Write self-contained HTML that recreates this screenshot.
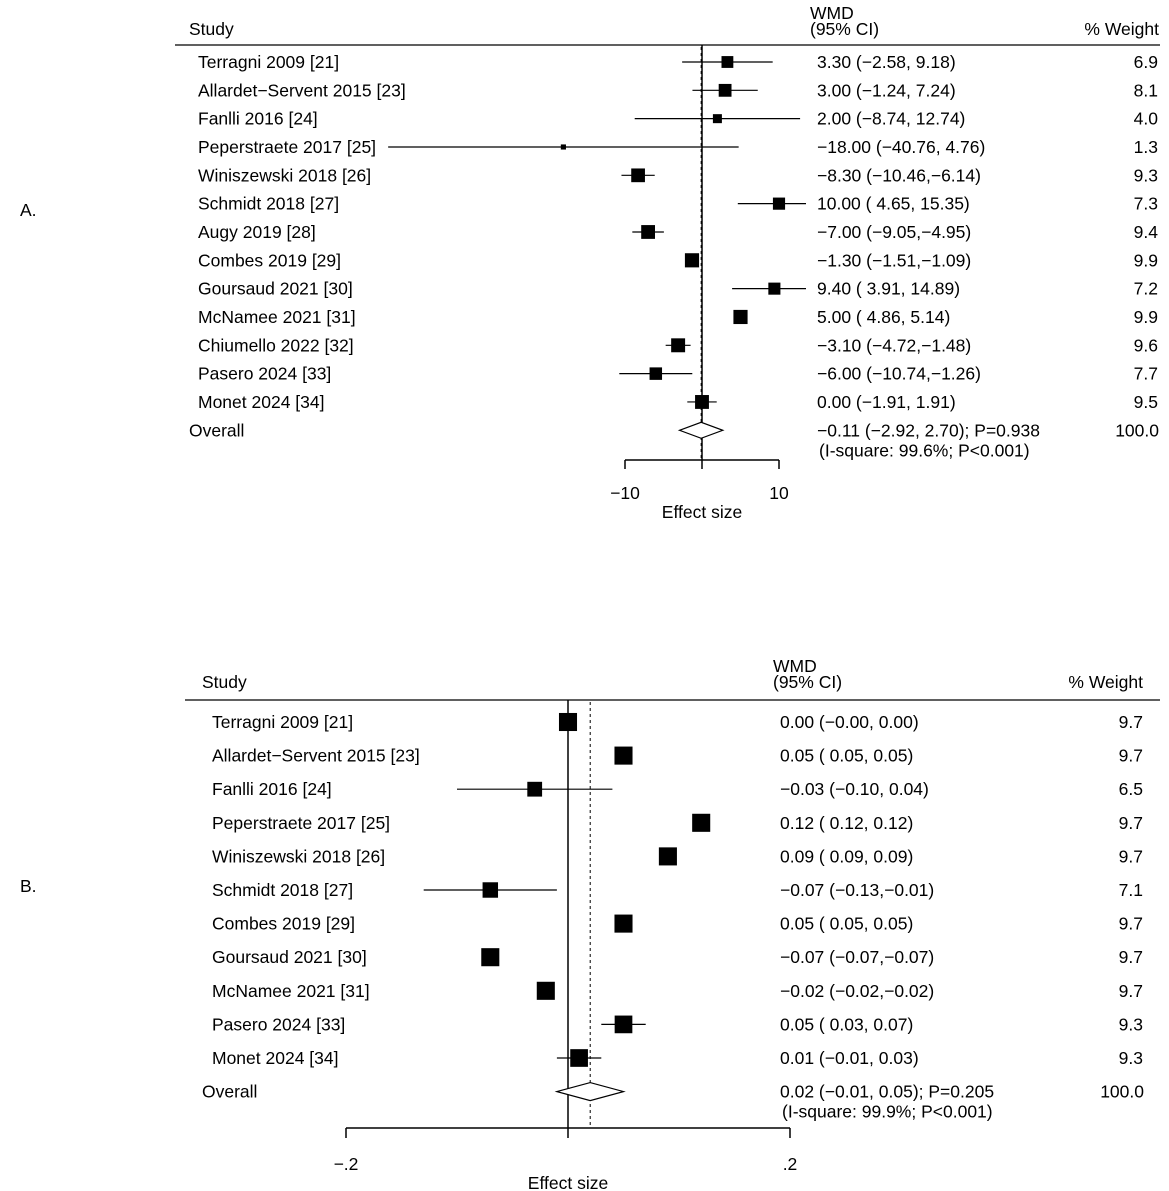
<!DOCTYPE html>
<html><head><meta charset="utf-8"><style>
html,body{margin:0;padding:0;background:#fff;width:1169px;height:1191px;overflow:hidden}
text{font-family:"Liberation Sans",sans-serif;font-size:17.5px;fill:#000}
</style></head><body>
<svg id="s" width="1169" height="1191" xmlns="http://www.w3.org/2000/svg"></svg>
<script>
const studiesA=["Terragni 2009 [21]","Allardet\u2212Servent 2015 [23]","Fanlli 2016 [24]","Peperstraete 2017 [25]","Winiszewski 2018 [26]","Schmidt 2018 [27]","Augy 2019 [28]","Combes 2019 [29]","Goursaud 2021 [30]","McNamee 2021 [31]","Chiumello 2022 [32]","Pasero 2024 [33]","Monet 2024 [34]"];
const estA=[3.30,3.00,2.00,-18.00,-8.30,10.00,-7.00,-1.30,9.40,5.00,-3.10,-6.00,0.00];
const loA=[-2.58,-1.24,-8.74,-40.76,-10.46,4.65,-9.05,-1.51,3.91,4.86,-4.72,-10.74,-1.91];
const hiA=[9.18,7.24,12.74,4.76,-6.14,15.35,-4.95,-1.09,14.89,5.14,-1.48,-1.26,1.91];
const wA=[6.9,8.1,4.0,1.3,9.3,7.3,9.4,9.9,7.2,9.9,9.6,7.7,9.5];
const overallA=[-0.11,-2.92,2.70];
const ciTextA=["3.30 (\u22122.58, 9.18)","3.00 (\u22121.24, 7.24)","2.00 (\u22128.74, 12.74)","\u221218.00 (\u221240.76, 4.76)","\u22128.30 (\u221210.46,\u22126.14)","10.00 ( 4.65, 15.35)","\u22127.00 (\u22129.05,\u22124.95)","\u22121.30 (\u22121.51,\u22121.09)","9.40 ( 3.91, 14.89)","5.00 ( 4.86, 5.14)","\u22123.10 (\u22124.72,\u22121.48)","\u22126.00 (\u221210.74,\u22121.26)","0.00 (\u22121.91, 1.91)"];
const ticksA=[-10,10];const tickLabA=["\u221210","10"];

const studiesB=["Terragni 2009 [21]","Allardet\u2212Servent 2015 [23]","Fanlli 2016 [24]","Peperstraete 2017 [25]","Winiszewski 2018 [26]","Schmidt 2018 [27]","Combes 2019 [29]","Goursaud 2021 [30]","McNamee 2021 [31]","Pasero 2024 [33]","Monet 2024 [34]"];
const estB=[0.00,0.05,-0.03,0.12,0.09,-0.07,0.05,-0.07,-0.02,0.05,0.01];
const loB=[-0.001,0.049,-0.10,0.119,0.089,-0.13,0.049,-0.071,-0.021,0.03,-0.01];
const hiB=[0.001,0.051,0.04,0.121,0.091,-0.01,0.051,-0.069,-0.019,0.07,0.03];
const wB=[9.7,9.7,6.5,9.7,9.7,7.1,9.7,9.7,9.7,9.3,9.3];
const overallB=[0.02,-0.01,0.05];
const ciTextB=["0.00 (\u22120.00, 0.00)","0.05 ( 0.05, 0.05)","\u22120.03 (\u22120.10, 0.04)","0.12 ( 0.12, 0.12)","0.09 ( 0.09, 0.09)","\u22120.07 (\u22120.13,\u22120.01)","0.05 ( 0.05, 0.05)","\u22120.07 (\u22120.07,\u22120.07)","\u22120.02 (\u22120.02,\u22120.02)","0.05 ( 0.03, 0.07)","0.01 (\u22120.01, 0.03)"];
const ticksB=[-0.2,0.2];const tickLabB=["\u2212.2",".2"];

const svg=document.getElementById('s');const NS="http://www.w3.org/2000/svg";
function el(t,a,txt){const e=document.createElementNS(NS,t);for(const k in a)e.setAttribute(k,a[k]);if(txt!==undefined)e.textContent=txt;svg.appendChild(e);return e;}

function panel(P){
  const x=v=>P.x0+v*P.k;
  const y=i=>P.y0+i*P.dy;
  let e;
  e=el('text',{x:20,y:P.letterY},P.letter);
  e=el('text',{x:P.studyX,y:P.headY},'Study');
  e=el('text',{x:P.ciX-7,y:P.headY-16},'WMD');
  e=el('text',{x:P.ciX-7,y:P.headY},'(95% CI)');
  e=el('text',{x:P.wX,y:P.headY,'text-anchor':'end'},'% Weight');
  e=el('line',{x1:P.lineX1,x2:1160,y1:P.lineY,y2:P.lineY,stroke:'#000','stroke-width':1.2});
  e=el('line',{x1:x(0),x2:x(0),y1:P.lineY,y2:P.axY,stroke:'#000','stroke-width':1.5});
  e=el('line',{x1:x(P.ov[0]),x2:x(P.ov[0]),y1:P.lineY+2,y2:P.axY,stroke:'#000','stroke-width':1,'stroke-dasharray':'3,3'});
  P.st.forEach((s,i)=>{
    let t=el('text',{x:P.studyX+(P.indent),y:y(i)+6},s);
    let l=el('line',{x1:x(P.lo[i]),x2:Math.min(x(P.hi[i]),P.clipX),y1:y(i),y2:y(i),stroke:'#000','stroke-width':1.2});
    const sz=P.sq*Math.sqrt(P.w[i]);
    let r=el('rect',{x:x(P.est[i])-sz/2,y:y(i)-sz/2,width:sz,height:sz,fill:'#000'});
    let c=el('text',{x:P.ciX,y:y(i)+6},P.ct[i]);
    let w=el('text',{x:P.wX-P.wOff,y:y(i)+6,'text-anchor':'end'},P.w[i].toFixed(1));
  });
  const oy=y(P.st.length);
  e=el('text',{x:P.studyX,y:oy+6},'Overall');
  e=el('polygon',{points:`${x(P.ov[1])},${oy} ${x(P.ov[0])},${oy-P.dh} ${x(P.ov[2])},${oy} ${x(P.ov[0])},${oy+P.dh}`,fill:'#fff',stroke:'#000','stroke-width':1.2});
  e=el('text',{x:P.ciX,y:oy+6},P.ovText);
  e=el('text',{x:P.ciX+2,y:oy+26},P.het);
  e=el('text',{x:P.wX-P.wOff+1,y:oy+6,'text-anchor':'end'},'100.0');
  e=el('line',{x1:x(P.ticks[0]),x2:x(P.ticks[1]),y1:P.axY,y2:P.axY,stroke:'#000','stroke-width':1.5});
  [P.ticks[0],0,P.ticks[1]].forEach(v=>{let t=el('line',{x1:x(v),x2:x(v),y1:P.axY,y2:P.axY+P.tl,stroke:'#000','stroke-width':1.5});});
  P.ticks.forEach((v,i)=>{let t=el('text',{x:x(v),y:P.tickY,'text-anchor':'middle'},P.tlab[i]);});
  e=el('text',{x:x(0),y:P.tickY+19,'text-anchor':'middle'},'Effect size');
}
panel({letter:'A.',letterY:216,x0:702,k:7.7,y0:62,dy:28.33,studyX:189,indent:9,headY:35,ciX:817,wX:1159,wOff:1,lineX1:175,lineY:45,axY:460,tl:9,tickY:499,clipX:806,
 st:studiesA,est:estA,lo:loA,hi:hiA,w:wA,ct:ciTextA,ov:overallA,ovText:'\u22120.11 (\u22122.92, 2.70); P=0.938',het:'(I-square: 99.6%; P<0.001)',ticks:ticksA,tlab:tickLabA,sq:4.5,dh:8});
panel({letter:'B.',letterY:892,x0:568,k:1110,y0:722,dy:33.6,studyX:202,indent:10,headY:688,ciX:780,wX:1143,wOff:0,lineX1:185,lineY:700,axY:1128,tl:10,tickY:1170,clipX:770,
 st:studiesB,est:estB,lo:loB,hi:hiB,w:wB,ct:ciTextB,ov:overallB,ovText:'0.02 (\u22120.01, 0.05); P=0.205',het:'(I-square: 99.9%; P<0.001)',ticks:ticksB,tlab:tickLabB,sq:5.8,dh:9});
</script>
</body></html>
